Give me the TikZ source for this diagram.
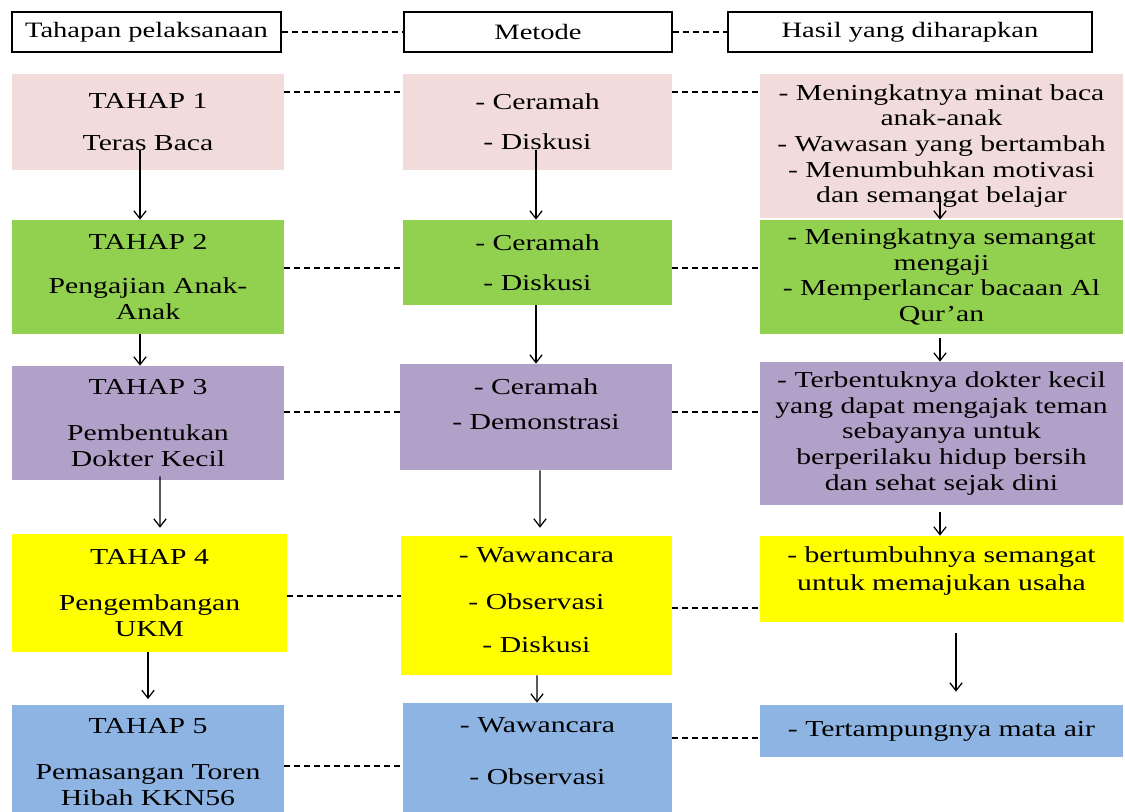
\documentclass[tikz,border=0pt]{standalone}
\usepackage{fontspec}
\setmainfont{Liberation Serif}[FakeStretch=1.3]
\usetikzlibrary{arrows.meta,calc}
\definecolor{pinkBox}{HTML}{F2DCDB}
\definecolor{greenBox}{HTML}{92D050}
\definecolor{purpleBox}{HTML}{B1A0C7}
\definecolor{yellowBox}{HTML}{FFFF00}
\definecolor{blueBox}{HTML}{8DB4E2}
\begin{document}
\begin{tikzpicture}[x=0.02cm, y=-0.02cm]
%styles
\tikzstyle{head}=[rectangle, draw=black, line width=1.4pt, minimum height=0.8cm, font=\fontsize{12.5}{14}\selectfont]
\tikzstyle{box}=[rectangle, align=center, inner sep=0pt, font=\fontsize{13}{14.6}\selectfont]
\tikzstyle{dashLine}=[dash pattern=on 3.4pt off 2.3pt, line width=0.6pt]
\tikzstyle{arrowDown}=[-{Straight Barb[length=4.5pt,width=7pt]}, line width=0.7pt]
\clip (0,0) rectangle (1125,811);
%header
\node[head, minimum width=5.38cm] (hTahap) at (146.5,32) {Tahapan pelaksanaan};
\node[head, minimum width=5.36cm] (hMetode) at (538,32) {Metode};
\node[head, minimum width=7.28cm] (hHasil) at (910,32) {Hasil yang diharapkan};
\draw[dashLine] (hTahap.east) -- (hMetode.west);
\draw[dashLine] (hMetode.east) -- (hHasil.west);

% tahap 1
\node[box, fill=pinkBox, minimum width=5.44cm, minimum height=1.92cm] (tahap1) at (148,122) {TAHAP 1\\[0.32cm]Teras Baca};
\node[box, fill=pinkBox, minimum width=5.38cm, minimum height=1.92cm] (metode1) at (537.5,122) {- Ceramah\\[0.28cm]- Diskusi};
\node[box, fill=pinkBox, minimum width=7.26cm, minimum height=2.88cm] (hasil1) at (941.5,146) {- Meningkatnya minat baca\\anak-anak\\- Wawasan yang bertambah\\- Menumbuhkan motivasi\\dan semangat belajar};

% tahap 2
\node[box, fill=greenBox, minimum width=5.44cm, minimum height=2.28cm] (tahap2) at (148,277) {TAHAP 2\\[0.38cm]Pengajian Anak-\\Anak};
\node[box, fill=greenBox, minimum width=5.38cm, minimum height=1.7cm] (metode2) at (537.5,262.5) {- Ceramah\\[0.28cm]- Diskusi};
\node[box, fill=greenBox, minimum width=7.26cm, minimum height=2.28cm] (hasil2) at (941.5,277) {- Meningkatnya semangat\\mengaji\\- Memperlancar bacaan Al\\Qur’an};

% tahap 3
\node[box, fill=purpleBox, minimum width=5.44cm, minimum height=2.28cm] (tahap3) at (148,423) {TAHAP 3\\[0.4cm]Pembentukan\\Dokter Kecil};
\node[box, fill=purpleBox, minimum width=5.44cm, minimum height=2.12cm] (metode3) at (536,417) {- Ceramah\\[0.2cm]- Demonstrasi\\[0cm]\mbox{}};
\node[box, fill=purpleBox, minimum width=7.26cm, minimum height=2.86cm] (hasil3) at (941.5,433.5) {- Terbentuknya dokter kecil\\yang dapat mengajak teman\\sebayanya untuk\\berperilaku hidup bersih\\dan sehat sejak dini};

% tahap 4
\node[box, fill=yellowBox, minimum width=5.5cm, minimum height=2.36cm] (tahap4) at (149.5,593) {TAHAP 4\\[0.4cm]Pengembangan\\UKM};
\node[box, fill=yellowBox, minimum width=5.42cm, minimum height=2.78cm] (metode4) at (536.5,605.5) {- Wawancara\\[0.42cm]- Observasi\\[0.36cm]- Diskusi\\[-0.3cm]\mbox{}};
\node[box, fill=yellowBox, minimum width=7.26cm, minimum height=1.72cm] (hasil4) at (941.5,579) {- bertumbuhnya semangat\\[0.04cm]untuk memajukan usaha\\[-0.1cm]\mbox{}};

% tahap 5
\node[box, fill=blueBox, minimum width=5.44cm, minimum height=2.3cm] (tahap5) at (148,762) {TAHAP 5\\[0.42cm]Pemasangan Toren\\Hibah KKN56};
\node[box, fill=blueBox, minimum width=5.38cm, minimum height=2.54cm] (metode5) at (537.5,766.5) {- Wawancara\\[0.54cm]- Observasi\\[0.1cm]\mbox{}};
\node[box, fill=blueBox, minimum width=7.26cm, minimum height=1.04cm] (hasil5) at (941.5,731) {- Tertampungnya mata air};

% garis putus-putus
\draw[dashLine] (tahap1.east |- 0,92) -- (metode1.west |- 0,92);
\draw[dashLine] (metode1.east |- 0,92) -- (hasil1.west |- 0,92);
\draw[dashLine] (tahap2.east |- 0,268) -- (metode2.west |- 0,268);
\draw[dashLine] (metode2.east |- 0,268) -- (hasil2.west |- 0,268);
\draw[dashLine] (tahap3.east |- 0,412) -- (metode3.west |- 0,412);
\draw[dashLine] (metode3.east |- 0,412) -- (hasil3.west |- 0,412);
\draw[dashLine] (tahap4.east |- 0,596) -- (metode4.west |- 0,596);
\draw[dashLine] (metode4.east |- 0,608) -- (hasil4.west |- 0,608);
\draw[dashLine] (tahap5.east |- 0,766) -- (metode5.west |- 0,766);
\draw[dashLine] (metode5.east |- 0,738) -- (hasil5.west |- 0,738);

% panah tahapan
\draw[arrowDown] ($(tahap1.south)+(-8,-20)$) -- ($(tahap2.north)+(-8,0)$);
\draw[arrowDown] ($(tahap2.south)+(-8,0)$) -- ($(tahap3.north)+(-8,0)$);
\draw[arrowDown] ($(tahap3.south)+(12,-4)$) -- ($(tahap4.north)+(10.5,-6)$);
\draw[arrowDown] ($(tahap4.south)+(-1.5,0)$) -- ($(tahap5.north)+(0,-5)$);
% panah metode
\draw[arrowDown] ($(metode1.south)+(-1.5,-20)$) -- ($(metode2.north)+(-1.5,0)$);
\draw[arrowDown] ($(metode2.south)+(-1.5,0)$) -- ($(metode3.north)+(0,0)$);
\draw[arrowDown] ($(metode3.south)+(4,0)$) -- ($(metode4.north)+(3.5,-8)$);
\draw[arrowDown] ($(metode4.south)+(0.5,0)$) -- ($(metode5.north)+(-0.5,0)$);
% panah hasil
\draw[arrowDown] ($(hasil1.south)+(-1.5,-22)$) -- ($(hasil2.north)+(-1.5,0)$);
\draw[arrowDown] ($(hasil2.south)+(-1.5,4)$) -- ($(hasil3.north)+(-1.5,0)$);
\draw[arrowDown] ($(hasil3.south)+(-1.5,7)$) -- ($(hasil4.north)+(-1.5,0)$);
\draw[arrowDown] ($(hasil4.south)+(14.5,11)$) -- ($(hasil5.north)+(14.5,-13)$);
\end{tikzpicture}
\end{document}
